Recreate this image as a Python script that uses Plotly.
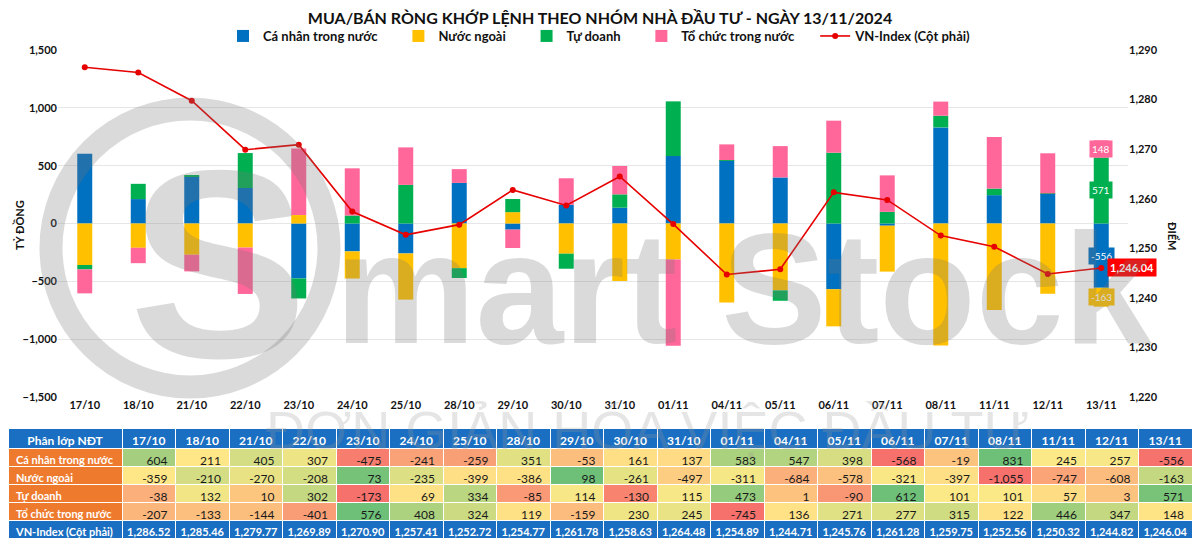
import plotly.graph_objects as go
import numpy as np

# ---------------- DATA ----------------
dates = ["17/10", "18/10", "21/10", "22/10", "23/10", "24/10", "25/10", "28/10", "29/10", "30/10",
         "31/10", "01/11", "04/11", "05/11", "06/11", "07/11", "08/11", "11/11", "12/11", "13/11"]
ca_nhan = [604, 211, 405, 307, -475, -241, -259, 351, -53, 161, 137, 583, 547, 398, -568, -19, 831, 245, 257, -556]
nuoc_ngoai = [-359, -210, -270, -208, 73, -235, -399, -386, 98, -261, -497, -311, -684, -578, -321, -397, -1055, -747, -608, -163]
tu_doanh = [-38, 132, 10, 302, -173, 69, 334, -85, 114, -130, 115, 473, 1, -90, 612, 101, 101, 57, 3, 571]
to_chuc = [-207, -133, -144, -401, 576, 408, 324, 119, -159, 230, 245, -745, 136, 271, 277, 315, 122, 446, 347, 148]
vnindex = [1286.52, 1285.46, 1279.77, 1269.89, 1270.90, 1257.41, 1252.72, 1254.77, 1261.78, 1258.63,
           1264.48, 1254.89, 1244.71, 1245.76, 1261.28, 1259.75, 1252.56, 1250.32, 1244.82, 1246.04]

series_names = ["Cá nhân trong nước", "Nước ngoài", "Tự doanh", "Tổ chức trong nước"]
series_vals = [ca_nhan, nuoc_ngoai, tu_doanh, to_chuc]
series_colors = ["#0070C0", "#FFC000", "#00B050", "#FF6699"]
line_name = "VN-Index (Cột phải)"
title_text = "MUA/BÁN RÒNG KHỚP LỆNH THEO NHÓM NHÀ ĐẦU TƯ - NGÀY 13/11/2024"
header_first = "Phân lớp NĐT"
wm_brand = "mart Stock"
wm_logo = "S"
wm_tagline = "ĐƠN GIẢN HÓA VIỆC ĐẦU TƯ"

FONT = "Lato, 'Open Sans', Arial, sans-serif"
WMFONT = "'Liberation Sans', Arial, sans-serif"
# the page body has an 8px margin, so the figure is laid out 8px smaller and offset
OFF = 8
W, H = 1200 - OFF, 544 - OFF
ML, MR, MT, MB = 0, 8, 42, 4
PW, PH = W - ML - MR, H - MT - MB
NB = "\u00a0"
LEG_PAD = NB * 5


def px(x, y):
    """reference-window pixels -> paper fractions"""
    return (x - OFF - ML) / PW, (H - MB - (y - OFF)) / PH


fig = go.Figure()

for name, vals, col in zip(series_names, series_vals, series_colors):
    fig.add_trace(go.Bar(x=dates, y=vals, name=name + LEG_PAD,
                         marker=dict(color=col, line=dict(width=0)), yaxis="y"))

fig.add_trace(go.Scatter(x=dates, y=vnindex, name=line_name, mode="lines+markers",
                         line=dict(color="#E60000", width=1.6),
                         marker=dict(color="#E60000", size=6), yaxis="y2"))

# data labels on the last column (segment midpoints from relative stacking)
last = len(dates) - 1
pos_base, neg_base = 0, 0
for name, vals, col in zip(series_names, series_vals, series_colors):
    v = vals[last]
    if v >= 0:
        mid = pos_base + v / 2
        pos_base += v
    else:
        mid = neg_base + v / 2
        neg_base += v
    fig.add_annotation(x=dates[last], y=mid, yref="y", text=f"{v:,}", showarrow=False,
                       font=dict(color="white", size=10, family=FONT), bgcolor=col, borderpad=2)

fig.add_annotation(x=dates[last], y=vnindex[last], yref="y2", text=f"<b>{vnindex[last]:,.2f}</b>",
                   showarrow=False, xanchor="left", xshift=6,
                   font=dict(color="white", size=11, family=FONT), bgcolor="#FF0000", borderpad=2)

# ---------------- TABLE ----------------
def lerp(c1, c2, t):
    return tuple(int(round(a + (b - a) * t)) for a, b in zip(c1, c2))


RED, YEL, GRN = (246, 112, 108), (255, 233, 135), (110, 192, 120)


def scale_colors(vals):
    arr = np.array(vals, dtype=float)
    lo, med, hi = arr.min(), np.percentile(arr, 50), arr.max()
    out = []
    for v in arr:
        if v <= med:
            t = 0 if med == lo else (v - lo) / (med - lo)
            c = lerp(RED, YEL, t)
        else:
            t = 0 if hi == med else (v - med) / (hi - med)
            c = lerp(YEL, GRN, t)
        out.append("rgb(%d,%d,%d)" % c)
    return out


row_colors = [scale_colors(v) for v in series_vals]
BLUE_T = "#1A6FC2"
ORANGE = "#EE7A2E"

col_values = [[n.replace(" ", NB) for n in series_names]]
col_fills = [[ORANGE] * 4]
col_fonts = [["white"] * 4]
for j in range(len(dates)):
    col_values.append([f"{series_vals[i][j]:,}" for i in range(4)])
    col_fills.append([row_colors[i][j] for i in range(4)])
    col_fonts.append(["#1a1a1a"] * 4)

colw = [114] + [53.5] * len(dates)
aligns = ["left"] + ["right"] * len(dates)
_, t_top = px(8, 428)
_, t_mid = px(8, 520)
_, t_bot = px(8, 538)

fig.add_trace(go.Table(
    domain=dict(x=[0, 1], y=[t_mid, t_top]),
    columnwidth=colw,
    header=dict(values=[header_first.replace(" ", NB)] + dates,
                fill_color=BLUE_T, line=dict(color="white", width=1),
                font=dict(color="white", size=12, family=FONT, weight="bold"), align="center", height=20),
    cells=dict(values=col_values, fill_color=col_fills, line=dict(color="white", width=1),
               font=dict(color=col_fonts, size=[11] + [12] * len(dates), family=FONT,
                         weight=["bold"] + ["normal"] * len(dates)),
               align=aligns, height=18),
))

# VN-Index row (all bold) drawn as a header-only table right below
fig.add_trace(go.Table(
    domain=dict(x=[0, 1], y=[t_bot, t_mid]),
    columnwidth=colw,
    header=dict(values=[line_name.replace(" ", NB)] + [f"{v:,.2f}" for v in vnindex],
                fill_color=BLUE_T, line=dict(color="white", width=1),
                font=dict(color="white", size=11, family=FONT, weight="bold"),
                align=["left"] + ["center"] * len(dates), height=18),
))

# ---------------- WATERMARK ----------------
wm = "rgba(120,120,120,0.27)"
cx, cy = px(190, 248)
r = 139 / PW
ry = 139 / PH
fig.add_shape(type="circle", xref="paper", yref="paper",
              x0=cx - r, x1=cx + r, y0=cy - ry, y1=cy + ry,
              line=dict(color=wm, width=23), fillcolor="rgba(0,0,0,0)", layer="above")
sx, sy = px(218, 416)
fig.add_annotation(xref="paper", yref="paper", x=sx, y=sy, text="<b>" + wm_logo + "</b>", showarrow=False,
                   xanchor="center", yanchor="bottom", font=dict(size=268, color=wm, family=WMFONT))
mx, my = px(333, 378)
fig.add_annotation(xref="paper", yref="paper", x=mx, y=my, text="<b>" + wm_brand + "</b>", showarrow=False,
                   xanchor="left", yanchor="bottom", font=dict(size=158, color=wm, family=WMFONT))
gx, gy = px(264, 462)
fig.add_annotation(xref="paper", yref="paper", x=gx, y=gy, text=wm_tagline,
                   showarrow=False, xanchor="left", yanchor="bottom",
                   font=dict(size=54, color="rgba(150,150,150,0.25)", family=WMFONT))

# axis titles
ax_, ay_ = px(10, 225)
fig.add_annotation(xref="paper", yref="paper", x=ax_, y=ay_, text="<b>TỶ ĐỒNG</b>", textangle=-90,
                   showarrow=False, font=dict(size=11, color="#111", family=FONT))
bx_, by_ = px(1182, 236)
fig.add_annotation(xref="paper", yref="paper", x=bx_, y=by_, text="<b>ĐIỂM</b>", textangle=90,
                   showarrow=False, font=dict(size=11, color="#111", family=FONT))

xd0, _ = px(58, 0)
xd1, _ = px(1128, 0)
_, yd1 = px(0, 50)
_, yd0 = px(0, 397)
_, leg_y = px(0, 36)

fig.update_layout(
    width=W, height=H,
    margin=dict(l=ML, r=MR, t=MT, b=MB, autoexpand=False),
    paper_bgcolor="white", plot_bgcolor="white",
    font=dict(family=FONT, color="#111"),
    barmode="relative", bargap=0.72,
    title=dict(text=title_text, x=0.5, xref="paper", xanchor="center", automargin=False,
               y=1 - (18 - OFF) / H, yanchor="middle",
               font=dict(size=16, weight="bold", family=FONT, color="#111")),
    legend=dict(orientation="h", x=0.5, xanchor="center", y=leg_y, yanchor="middle",
                font=dict(size=13, weight="bold", family=FONT), traceorder="normal",
                itemwidth=30, bgcolor="rgba(0,0,0,0)"),
    xaxis=dict(domain=[xd0, xd1], type="category", range=[-0.5, len(dates) - 0.5],
               showgrid=False, showline=False, ticks="",
               automargin=False, tickfont=dict(size=11, weight="bold")),
    yaxis=dict(domain=[yd0, yd1], range=[-1500, 1500], dtick=500, tickformat=",", automargin=False,
               showgrid=True, gridcolor="#E6E6E6", gridwidth=1, zeroline=False,
               tickfont=dict(size=11, weight="bold"), ticks="", showline=False),
    yaxis2=dict(overlaying="y", side="right", range=[1220, 1290], dtick=10, tickformat=",",
                automargin=False, showgrid=False, zeroline=False, tickfont=dict(size=11, weight="bold"),
                ticks="", showline=False, anchor="x"),
    showlegend=True,
)

fig.write_html("out.html")
